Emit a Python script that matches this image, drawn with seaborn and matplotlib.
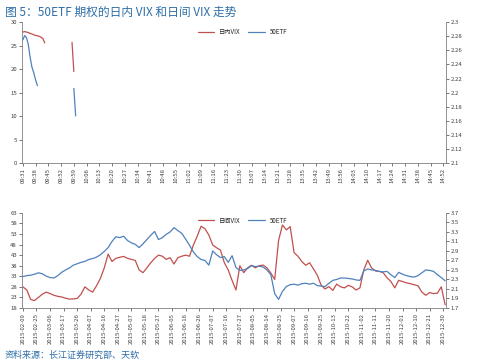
import numpy as np
import matplotlib
matplotlib.use("Agg")
import matplotlib.pyplot as plt
from matplotlib.lines import Line2D
import seaborn as sns

sns.set_theme(style="white")
plt.rcParams["font.family"] = ["Noto Sans CJK SC", "DejaVu Sans"]

RED = "#C0504D"
BLUE = "#4F81BD"
TXT_BLUE = "#2F6EA8"
GREY = "#404040"

# ---- top panel: intraday VIX vs 50ETF (minute bars from 09:31) ----
time_labels = ["09:31", "09:38", "09:45", "09:52", "09:59", "10:06", "10:13",
               "10:20", "10:27", "10:34", "10:41", "10:48", "10:55", "11:02",
               "11:09", "11:16", "11:23", "11:30", "13:07", "13:14", "13:21",
               "13:28", "13:35", "13:42", "13:49", "13:56", "14:03", "14:10",
               "14:17", "14:24", "14:31", "14:38", "14:45", "14:52"]
n_minutes = 233

vix_intraday_a = [27.9, 28.0, 27.9, 27.8, 27.6, 27.5, 27.3, 27.2, 27.1, 27.0, 26.8, 26.5, 25.6]
vix_intraday_a_start = 0
vix_intraday_b = [25.7, 19.5]
vix_intraday_b_start = 27

etf_intraday_a = [2.275, 2.281, 2.278, 2.268, 2.250, 2.236, 2.228, 2.218, 2.210]
etf_intraday_a_start = 0
etf_intraday_b = [2.206, 2.167]
etf_intraday_b_start = 28

# ---- bottom panel: daily VIX vs 50ETF (every 2nd trading day from 2015-02-09) ----
date_labels = ["2015-02-09", "2015-02-25", "2015-03-06", "2015-03-17", "2015-03-26",
               "2015-04-07", "2015-04-16", "2015-04-27", "2015-05-07", "2015-05-18",
               "2015-05-27", "2015-06-05", "2015-06-16", "2015-06-26", "2015-07-07",
               "2015-07-16", "2015-07-27", "2015-08-05", "2015-08-14", "2015-08-25",
               "2015-09-07", "2015-09-16", "2015-09-25", "2015-10-13", "2015-10-22",
               "2015-11-02", "2015-11-11", "2015-11-20", "2015-12-01", "2015-12-10",
               "2015-12-21", "2015-12-30"]
n_days = 219
day_step = 2

vix_daily = [28.0, 26.5, 22.0, 21.5, 23.0, 24.5, 25.5, 24.8, 24.0, 23.5,
             23.2, 22.6, 22.2, 22.3, 22.5, 24.5, 28.0, 26.5, 25.5, 28.5,
             32.0, 37.0, 43.5, 40.0, 41.5, 42.0, 42.4, 41.5, 41.0, 40.5,
             36.0, 34.7, 37.0, 39.4, 41.5, 43.0, 42.5, 41.0, 41.8, 38.8,
             41.8, 42.5, 43.0, 42.5, 47.8, 52.0, 56.7, 55.5, 52.5, 47.8,
             46.5, 45.4, 39.4, 36.0, 31.0, 26.5, 38.0, 34.7, 37.0, 38.2,
             37.0, 38.0, 38.3, 37.0, 34.5, 31.5, 50.0, 57.3, 55.0, 56.5,
             44.2, 42.5, 40.0, 38.2, 39.4, 36.5, 33.5, 28.7, 27.0, 28.1,
             26.3, 29.3, 28.0, 27.5, 28.7, 28.0, 26.5, 27.5, 36.0, 40.6,
             37.0, 35.5, 35.3, 34.7, 32.3, 30.5, 27.5, 31.1, 30.5, 29.9,
             29.5, 29.0, 28.5, 25.5, 24.0, 25.3, 24.8, 25.0, 28.0, 19.5]

etf_daily = [2.36, 2.38, 2.39, 2.41, 2.44, 2.42, 2.37, 2.34, 2.33, 2.38,
             2.45, 2.50, 2.54, 2.60, 2.63, 2.66, 2.68, 2.72, 2.74, 2.77,
             2.82, 2.89, 2.97, 3.10, 3.20, 3.18, 3.21, 3.12, 3.07, 3.04,
             2.97, 3.05, 3.14, 3.23, 3.31, 3.14, 3.18, 3.25, 3.30, 3.39,
             3.33, 3.27, 3.15, 3.02, 2.88, 2.78, 2.72, 2.70, 2.60, 2.90,
             2.82, 2.76, 2.78, 2.66, 2.80, 2.55, 2.49, 2.50, 2.53, 2.59,
             2.57, 2.58, 2.56, 2.50, 2.40, 2.00, 1.88, 2.05, 2.15, 2.19,
             2.20, 2.18, 2.21, 2.22, 2.20, 2.22, 2.17, 2.16, 2.15, 2.22,
             2.28, 2.30, 2.33, 2.33, 2.32, 2.31, 2.29, 2.28, 2.48, 2.52,
             2.50, 2.49, 2.47, 2.46, 2.47, 2.40, 2.34, 2.45, 2.41, 2.38,
             2.36, 2.35, 2.38, 2.44, 2.50, 2.49, 2.47, 2.40, 2.34, 2.27]

fig = plt.figure(figsize=(4.99, 3.64), dpi=100)

ax1 = fig.add_axes([0.044, 0.552, 0.85, 0.387])
ax1r = ax1.twinx()

sns.lineplot(x=np.arange(len(vix_intraday_a)) + vix_intraday_a_start, y=vix_intraday_a,
             ax=ax1, color=RED, lw=0.9)
sns.lineplot(x=np.arange(len(vix_intraday_b)) + vix_intraday_b_start, y=vix_intraday_b,
             ax=ax1, color=RED, lw=0.9)
sns.lineplot(x=np.arange(len(etf_intraday_a)) + etf_intraday_a_start, y=etf_intraday_a,
             ax=ax1r, color=BLUE, lw=0.9)
sns.lineplot(x=np.arange(len(etf_intraday_b)) + etf_intraday_b_start, y=etf_intraday_b,
             ax=ax1r, color=BLUE, lw=0.9)

ax1.set_ylim(0, 30)
ax1.set_yticks(np.arange(0, 31, 5))
right_top = np.round(np.arange(2.1, 2.3001, 0.02), 2)
ax1r.set_ylim(2.1, 2.3)
ax1r.set_yticks(right_top)
ax1r.set_yticklabels([f"{v:g}" for v in right_top])
ax1.set_xlim(-0.5, n_minutes - 0.5)
ax1.set_xticks(np.arange(len(time_labels)) * 7)
ax1.set_xticklabels(time_labels, rotation=90)

ax1.legend([Line2D([], [], color=RED, lw=0.9), Line2D([], [], color=BLUE, lw=0.9)],
           ["日内VIX", "50ETF"], loc="upper center", bbox_to_anchor=(0.52, 1.0),
           ncol=2, frameon=False, fontsize=4.5, handlelength=2.6, columnspacing=1.2)

# ---- bottom ----
ax2 = fig.add_axes([0.044, 0.154, 0.85, 0.261])
ax2r = ax2.twinx()

day_x = np.arange(len(vix_daily)) * day_step
sns.lineplot(x=day_x, y=vix_daily, ax=ax2, color=RED, lw=0.9)
sns.lineplot(x=day_x, y=etf_daily, ax=ax2r, color=BLUE, lw=0.9)

ax2.set_ylim(18, 63)
ax2.set_yticks(np.arange(18, 64, 5))
ax2r.set_ylim(1.7, 3.7)
ax2r.set_yticks(np.round(np.arange(1.7, 3.7001, 0.2), 1))
ax2.set_xlim(-0.5, n_days - 0.5)
ax2.set_xticks(np.arange(len(date_labels)) * 7)
ax2.set_xticklabels(date_labels, rotation=90)

ax2.legend([Line2D([], [], color=RED, lw=0.9), Line2D([], [], color=BLUE, lw=0.9)],
           ["日间VIX", "50ETF"], loc="upper center", bbox_to_anchor=(0.52, 1.02),
           ncol=2, frameon=False, fontsize=4.5, handlelength=2.6, columnspacing=1.2)

for a, ar in [(ax1, ax1r), (ax2, ax2r)]:
    a.spines["top"].set_visible(False)
    ar.spines["top"].set_visible(False)
    a.spines["right"].set_visible(False)
    ar.spines["left"].set_visible(False)
    ar.spines["bottom"].set_visible(False)
    for s in ["left", "bottom"]:
        a.spines[s].set_color("#7f7f7f")
        a.spines[s].set_linewidth(0.6)
    ar.spines["right"].set_color("#7f7f7f")
    ar.spines["right"].set_linewidth(0.6)
    a.tick_params(axis="both", labelsize=4.3, colors=GREY, length=2, width=0.5,
                  direction="out", pad=1.5, left=True, bottom=True)
    ar.tick_params(axis="y", labelsize=4.3, colors=GREY, length=2, width=0.5,
                   direction="out", pad=1.5, right=True)
    a.set_xlabel("")
    a.set_ylabel("")
    ar.set_ylabel("")
    a.grid(False)
    ar.grid(False)

fig.text(0.01, 0.985, "图 5：50ETF 期权的日内 VIX 和日间 VIX 走势", color=TXT_BLUE,
         fontsize=8.5, va="top", ha="left")
fig.text(0.01, 0.012, "资料来源：长江证券研究部、天软", color=TXT_BLUE,
         fontsize=6.5, va="bottom", ha="left")

fig.savefig("out.png", dpi=100)
